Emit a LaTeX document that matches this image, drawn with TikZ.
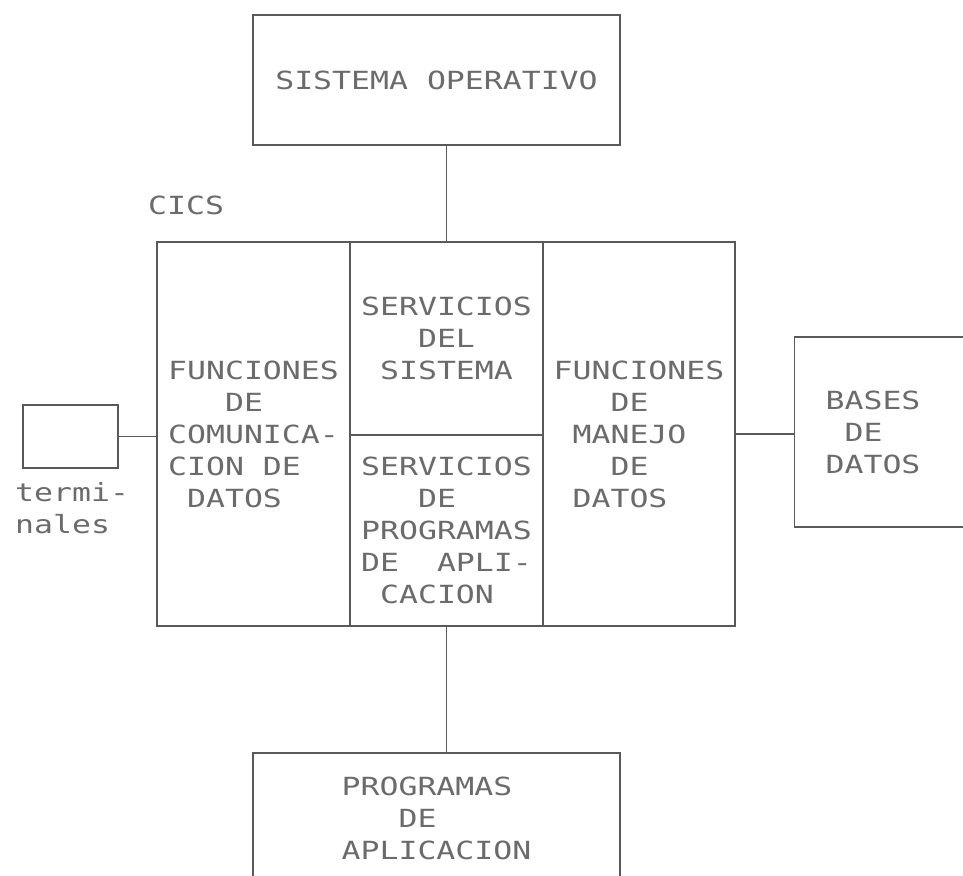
\documentclass[tikz,border=0pt]{standalone}
\usepackage{fontspec}
\newfontfamily\dotmono[FakeStretch=1.26,WordSpace={1,0,0}]{DejaVu Sans Mono}
\definecolor{ink}{gray}{0.35}
\definecolor{typed}{gray}{0.42}
\newcommand\pad[1]{\hphantom{#1}}

\begin{document}
\begin{tikzpicture}[x=1pt,y=-1pt,
    box/.style={draw=ink,line width=1.2pt,inner sep=0pt,align=left,
      text=typed,font=\dotmono\fontsize{25}{32}\selectfont},
    tag/.style={inner sep=0pt,align=left,text=typed,
      font=\dotmono\fontsize{25}{32}\selectfont},
    link/.style={draw=ink,line width=1.8pt}]
  \useasboundingbox (0,0) rectangle (963,875);
  \clip (0,0) rectangle (963,875);
  \fill[white] (0,0) rectangle (963,875);

  % outside
  \node[box,minimum width=367pt,minimum height=130pt] (sysop) at (436.5,80)
    {SISTEMA OPERATIVO};
  \node[box,minimum width=95pt,minimum height=63pt] (term) at (70.5,436.5) {};
  \node[tag,anchor=north west] (termlbl) at (15,482) {termi-\\nales};
  \node[box,anchor=west,minimum width=190pt,minimum height=190pt,
    text width=128pt,inner xsep=31pt] (bases) at (794,432)
    {BASES\\\pad{X}DE\\DATOS};
  \node[box,minimum width=367pt,minimum height=130pt] (apl) at (436.5,818)
    {PROGRAMAS\\\pad{XXX}DE\\APLICACION};

  % CICS
  \node[tag,anchor=west] (cics) at (148,205) {CICS};
  \node[box,minimum width=193pt,minimum height=384pt] (com) at (253.5,434)
    {FUNCIONES\\\pad{XXX}DE\\COMUNICA-\\CION DE\\\pad{X}DATOS};
  \node[box,minimum width=193pt,minimum height=193pt] (srvsis) at (446.5,338.5)
    {SERVICIOS\\\pad{XXX}DEL\\\pad{X}SISTEMA};
  \node[box,minimum width=193pt,minimum height=191pt] (srvprog) at (446.5,530.5)
    {SERVICIOS\\\pad{XXX}DE\\PROGRAMAS\\DE\pad{XX}APLI-\\\pad{X}CACION};
  \node[box,minimum width=192pt,minimum height=384pt] (manejo) at (639,434)
    {FUNCIONES\\\pad{XXX}DE\\\pad{X}MANEJO\\\pad{XXX}DE\\\pad{X}DATOS};

  \draw[link] (srvsis.north) -- (srvsis.north |- sysop.south);
  \draw[link] (srvprog.south) -- (srvprog.south |- apl.north);
  \draw[link] (term.east) -- (term.east -| com.west);
  \draw[link] (manejo.east) -- (manejo.east -| bases.west);
\end{tikzpicture}
\end{document}
